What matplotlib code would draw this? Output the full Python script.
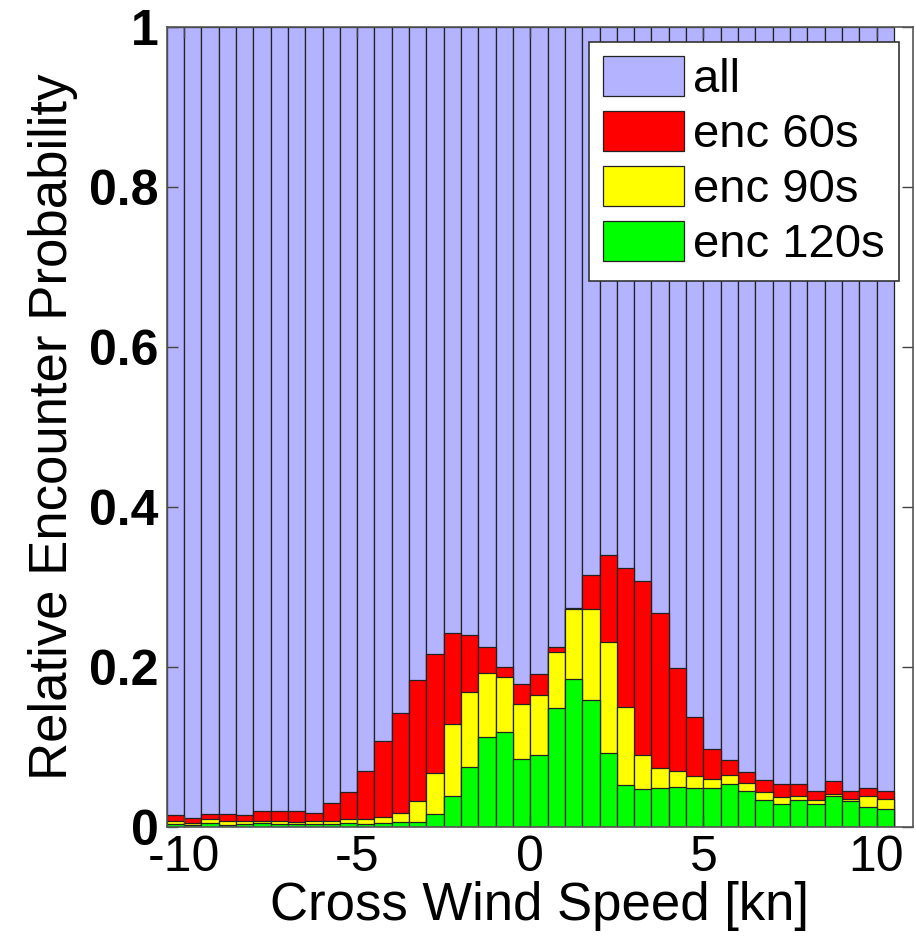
import numpy as np
import matplotlib
matplotlib.use('Agg')
import matplotlib.pyplot as plt

plt.rcParams['font.family'] = ['Liberation Sans', 'DejaVu Sans']
plt.rcParams['axes.unicode_minus'] = False

# bin centres (0.5 kn bins from -10.5 to 10.5)
centers = np.arange(-10.25, 10.5, 0.5)

# relative encounter probability per bin
enc60 = [0.0146, 0.0104, 0.0158, 0.0158, 0.0142, 0.0192, 0.0192, 0.0192, 0.0175, 0.030,
         0.043, 0.070, 0.107, 0.142, 0.184, 0.216, 0.243, 0.240, 0.225, 0.200,
         0.179, 0.191, 0.225, 0.274, 0.315, 0.340, 0.324, 0.307, 0.267, 0.198,
         0.137, 0.097, 0.083, 0.068, 0.059, 0.054, 0.054, 0.0446, 0.057, 0.0446,
         0.049, 0.0446]
enc90 = [0.0075, 0.0046, 0.0092, 0.0067, 0.0075, 0.0075, 0.0075, 0.0062, 0.0075, 0.0075,
         0.0092, 0.0096, 0.0125, 0.0171, 0.0317, 0.0667, 0.129, 0.169, 0.192, 0.187,
         0.153, 0.165, 0.218, 0.273, 0.273, 0.231, 0.150, 0.090, 0.073, 0.070,
         0.063, 0.060, 0.065, 0.055, 0.044, 0.0375, 0.039, 0.034, 0.041, 0.035,
         0.039, 0.035]
enc120 = [0.0033, 0.0025, 0.0042, 0.0025, 0.0033, 0.0042, 0.0033, 0.003, 0.0033, 0.0033,
          0.0042, 0.0033, 0.0042, 0.0058, 0.0058, 0.0154, 0.038, 0.075, 0.112, 0.118,
          0.085, 0.090, 0.148, 0.185, 0.158, 0.092, 0.052, 0.0475, 0.049, 0.050,
          0.049, 0.049, 0.054, 0.045, 0.034, 0.028, 0.033, 0.028, 0.038, 0.0325,
          0.025, 0.0217]
all_ = np.ones(len(centers))

series = [('all', all_, '#b3b3ff'),
          ('enc 60s', enc60, '#ff0000'),
          ('enc 90s', enc90, '#ffff00'),
          ('enc 120s', enc120, '#00ff00')]

fig = plt.figure(figsize=(9.16, 9.47), dpi=100)
ax = fig.add_axes([0.182, 0.127, 0.815, 0.844])

for label, vals, col in series:
    ax.bar(centers, vals, width=0.5, color=col, edgecolor='#222222',
           linewidth=0.9, label=label)

ax.set_xlim(-10.5, 11.06)
ax.set_ylim(0, 1)
ax.set_xticks([-10, -5, 0, 5, 10])
ax.set_yticks([0, 0.2, 0.4, 0.6, 0.8, 1])
ax.set_yticklabels(['0', '0.2', '0.4', '0.6', '0.8', '1'], fontweight='bold')
ax.tick_params(direction='in', length=8, width=1, top=True, right=True,
               labelsize=36, pad=6, color='#444444')
for s in ax.spines.values():
    s.set_color('#555555')
    s.set_linewidth(1.2)

ax.set_xlabel('Cross Wind Speed [kn]', fontsize=38, labelpad=0)
ax.set_ylabel('Relative Encounter Probability', fontsize=38, labelpad=8)

leg = ax.legend(loc='upper right', fontsize=34, fancybox=False, framealpha=1,
                edgecolor='#333333', handlelength=1.7, handleheight=0.94,
                handletextpad=0.2, labelspacing=0.18, borderpad=0.3,
                borderaxespad=0.3)
leg.get_frame().set_linewidth(1.2)

fig.savefig('out.png', dpi=100)
